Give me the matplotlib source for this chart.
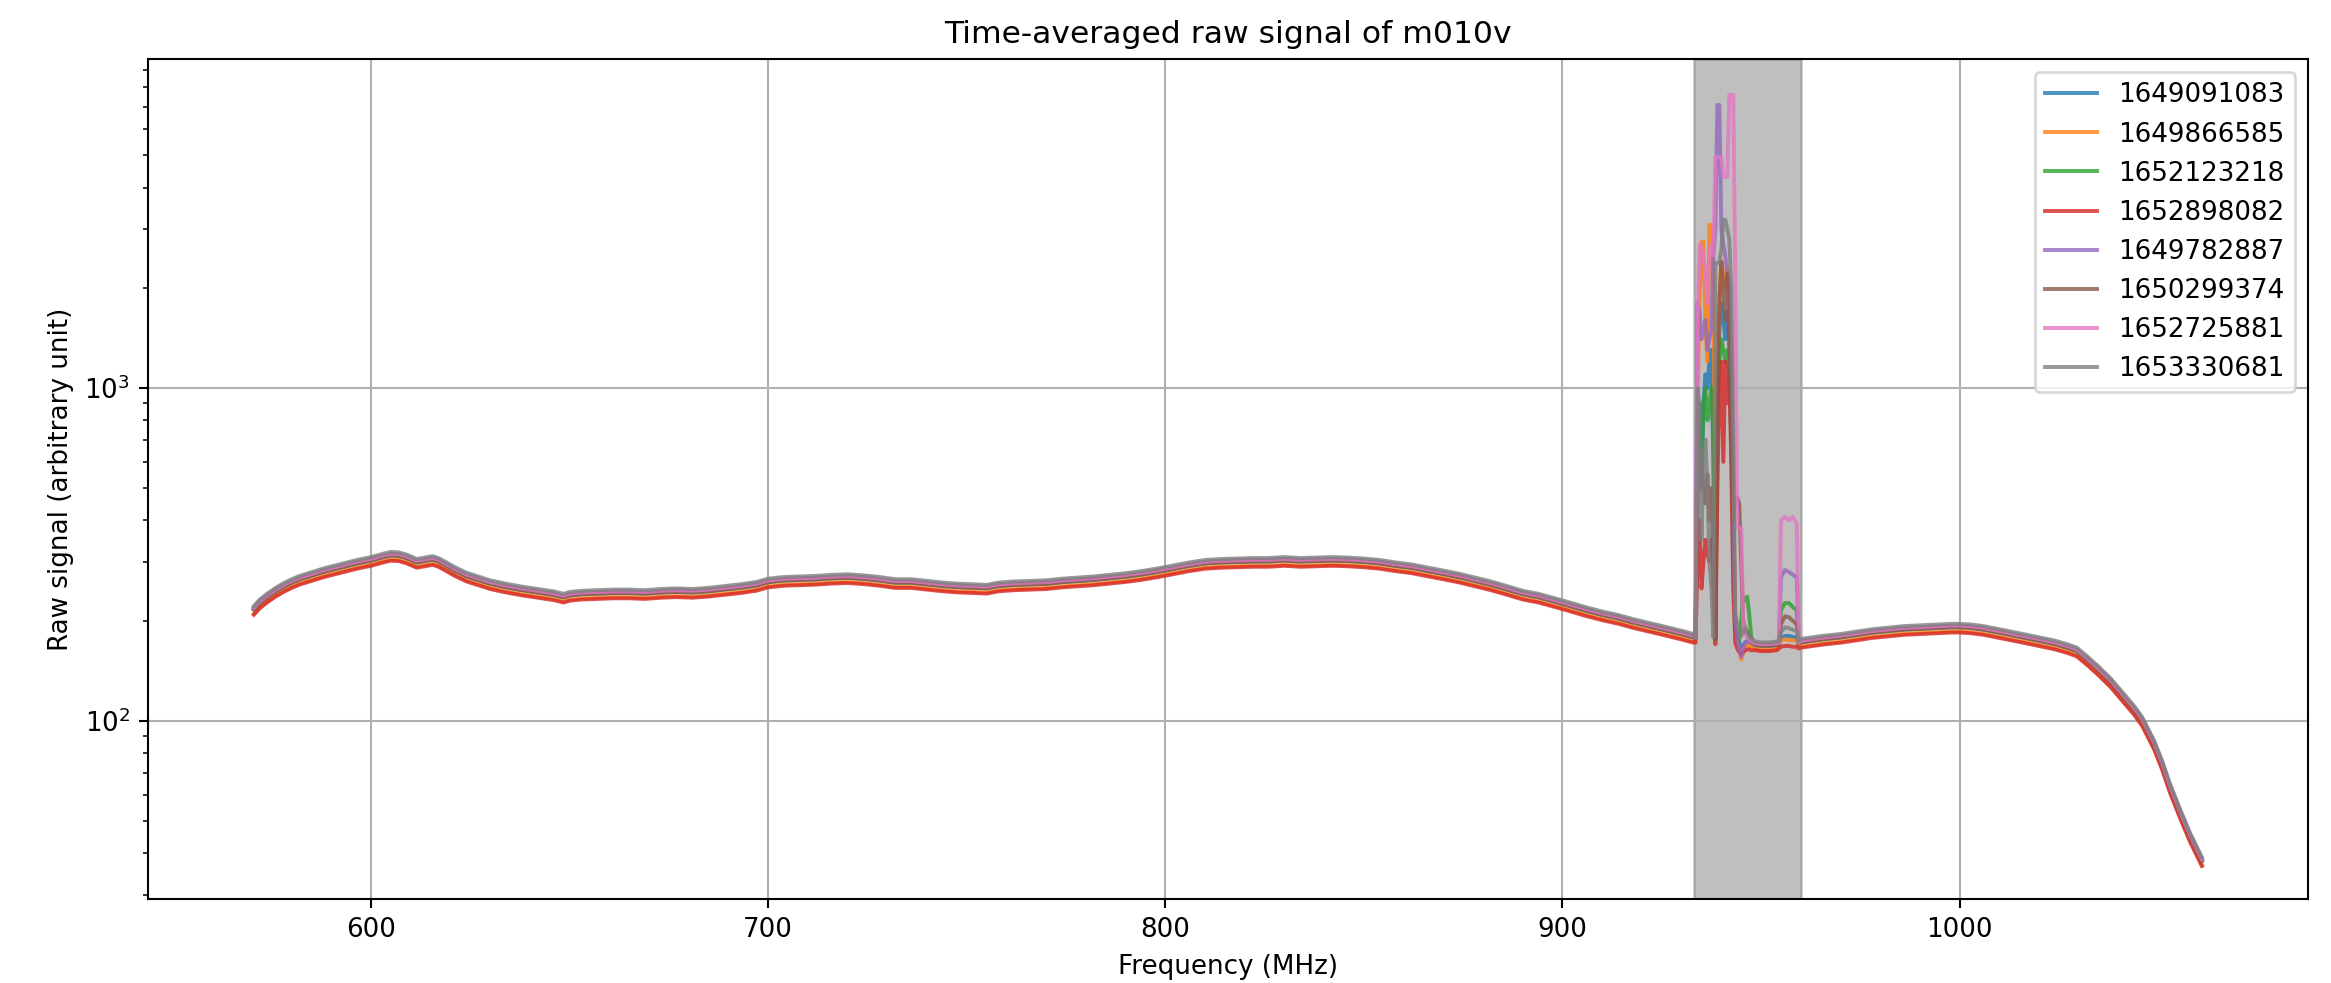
import numpy as np
import matplotlib
matplotlib.use("Agg")
import matplotlib.pyplot as plt

# ---------------- data ----------------
series_names = ["1649091083", "1649866585", "1652123218", "1652898082",
                "1649782887", "1650299374", "1652725881", "1653330681"]

# relative level of each series with respect to the common baseline
series_level = [1.012, 0.972, 1.000, 0.965, 1.006, 1.000, 1.012, 1.025]

# baseline below the RFI band (MHz, arbitrary unit)
pre_freq = [570.5, 572, 574, 576, 578, 580, 582, 585, 588, 591, 594, 597, 600,
            603, 605, 607, 609, 611.5, 613.5, 615.5, 617, 619, 621, 624, 627,
            630, 634, 638, 642, 646, 648.5, 650, 653, 657, 661, 665, 669, 673,
            677, 681, 685, 689, 693, 697, 700, 704, 708, 712, 716, 720, 724,
            728, 732, 736, 740, 744, 748, 752, 755, 758, 762, 766, 770, 774,
            778, 782, 786, 790, 794, 798, 802, 806, 810, 814, 818, 822, 826,
            830, 834, 838, 842, 846, 850, 854, 858, 862, 866, 870, 874, 878,
            882, 886, 890, 894, 898, 902, 906, 910, 914, 918, 922, 926, 930,
            933]
pre_val = [216, 226, 236, 245, 253, 260, 266, 273, 280, 286, 292, 298, 303,
           310, 314, 313, 308, 299, 302, 305, 301, 292, 283, 272, 265,
           258, 252, 247, 243, 239, 235, 238, 240, 241, 242, 242, 241, 243,
           244, 243, 245, 248, 251, 255, 261, 264, 265, 266, 268, 269, 267,
           264, 260, 260, 257, 254, 252, 251, 250, 254, 256, 257, 258, 261,
           263, 265, 268, 271, 275, 280, 286, 292, 297, 299, 300, 301, 301,
           303, 301, 302, 303, 302, 300, 297, 292, 288, 282, 276, 270, 263,
           256, 248, 240, 235, 228, 221, 214, 208, 203, 197, 192, 187, 182,
           178]

# RFI cluster inside the flagged band, one list per series
spike_freq = [933.5, 934.0, 934.5, 935.0, 935.5, 936.0, 936.5, 937.0, 937.5,
              938.0, 938.5, 939.0, 939.5, 940.0, 940.5, 941.0, 941.5, 942.0,
              942.5, 943.0, 943.5, 944.0, 944.5, 945.0, 945.5, 946.0, 946.5,
              947.0, 947.5, 948.0]
spike_vals = [
    # 1649091083
    [177, 600, 900, 500, 900, 1100, 1000, 1200, 1300, 600, 180, 900, 1500,
     1800, 1600, 1400, 1700, 1500, 900, 400, 190, 176, 172, 166, 168, 172,
     174, 172, 171, 170],
    # 1649866585
    [175, 900, 1800, 2750, 2750, 1500, 1200, 3090, 3090, 2000, 175, 1100,
     1900, 2400, 2200, 2000, 2300, 1900, 1200, 500, 200, 172, 163, 153, 160,
     168, 170, 168, 167, 166],
    # 1652123218
    [177, 500, 800, 600, 900, 1000, 800, 900, 1000, 700, 178, 800, 1200,
     1400, 1300, 1200, 1300, 1100, 700, 300, 190, 180, 175, 200, 236, 230,
     236, 210, 180, 172],
    # 1652898082
    [172, 300, 400, 250, 300, 350, 320, 300, 350, 250, 170, 500, 1000, 1200,
     600, 1200, 900, 1100, 600, 250, 172, 165, 161, 159, 161, 163, 164, 164,
     163, 163],
    # 1649782887
    [177, 1800, 1700, 1400, 1500, 1600, 1300, 1400, 1500, 2500, 3000, 7080,
     7080, 3000, 2700, 2500, 2200, 2000, 1200, 450, 200, 175, 165, 156, 165,
     172, 174, 173, 172, 171],
    # 1650299374
    [177, 800, 600, 580, 500, 450, 550, 400, 500, 300, 175, 1000, 1800, 2400,
     2000, 1600, 2200, 1300, 800, 400, 470, 470, 450, 300, 200, 190, 185,
     180, 174, 172],
    # 1652725881
    [178, 1500, 2700, 2650, 2500, 2200, 1800, 2600, 2700, 2500, 4940, 4940,
     4940, 4900, 4310, 4310, 4310, 7590, 7590, 7590, 2200, 380, 380, 380,
     200, 182, 178, 176, 174, 172],
    # 1653330681
    [179, 1000, 900, 350, 600, 700, 500, 300, 250, 178, 2370, 2370, 2400,
     2600, 3200, 3200, 3000, 2800, 2000, 700, 210, 195, 185, 180, 185, 190,
     185, 180, 177, 175],
]

# quiet part of the band
mid_freq = [948.5, 950, 952, 954]
mid_val = [169, 168, 168, 169]

# second RFI bump inside the band, one list per series
bump_freq = [954.5, 955.0, 956.0, 957.0, 958.0, 959.0, 959.5]
bump_vals = [
    [172, 178, 180, 180, 179, 178, 172],
    [168, 174, 176, 175, 175, 174, 168],
    [171, 215, 226, 226, 220, 215, 171],
    [165, 167, 168, 168, 167, 167, 165],
    [171, 270, 284, 280, 275, 270, 171],
    [171, 195, 206, 205, 200, 195, 171],
    [172, 400, 410, 400, 410, 390, 172],
    [174, 185, 191, 190, 188, 186, 174],
]

# baseline above the RFI band
post_freq = [960, 963, 966, 970, 974, 978, 982, 986, 990, 994, 998, 1000,
             1003, 1006, 1009, 1012, 1016, 1020, 1024, 1027, 1029.5, 1032,
             1035, 1038, 1041, 1044, 1046, 1049, 1051, 1053, 1055.5, 1058,
             1061]
post_val = [172, 174, 176, 178, 181, 184, 186, 188, 189, 190, 191, 191,
            190, 188, 185, 182, 178, 174, 170, 166, 162, 153,
            142, 131, 119, 108, 100, 85, 74, 63, 53, 45,
            38]

flag_band = (933.0, 960.0)

# ---------------- plot ----------------
DPI = 188
fig = plt.figure(figsize=(2331 / DPI, 983 / DPI), dpi=DPI)
ax = fig.add_axes([0.0636, 0.0855, 0.9265, 0.8545])

colors = plt.rcParams["axes.prop_cycle"].by_key()["color"]
for i, name in enumerate(series_names):
    lvl = series_level[i]
    x = np.concatenate([pre_freq, spike_freq, mid_freq, bump_freq, post_freq])
    y = np.concatenate([np.array(pre_val) * lvl, spike_vals[i],
                        np.array(mid_val) * lvl, bump_vals[i],
                        np.array(post_val) * lvl])
    ax.plot(x, y, color=colors[i], lw=1.5, alpha=0.8, label=name)

ax.axvspan(flag_band[0], flag_band[1], color="gray", alpha=0.5)
ax.set_yscale("log")
ax.set_xlim(543.9, 1087.7)
ax.set_ylim(29.2, 9730)
ax.grid(True)
ax.set_title("Time-averaged raw signal of m010v")
ax.set_xlabel("Frequency (MHz)")
ax.set_ylabel("Raw signal (arbitrary unit)")
ax.legend(loc="upper right")

fig.savefig("out.png", dpi=DPI)
